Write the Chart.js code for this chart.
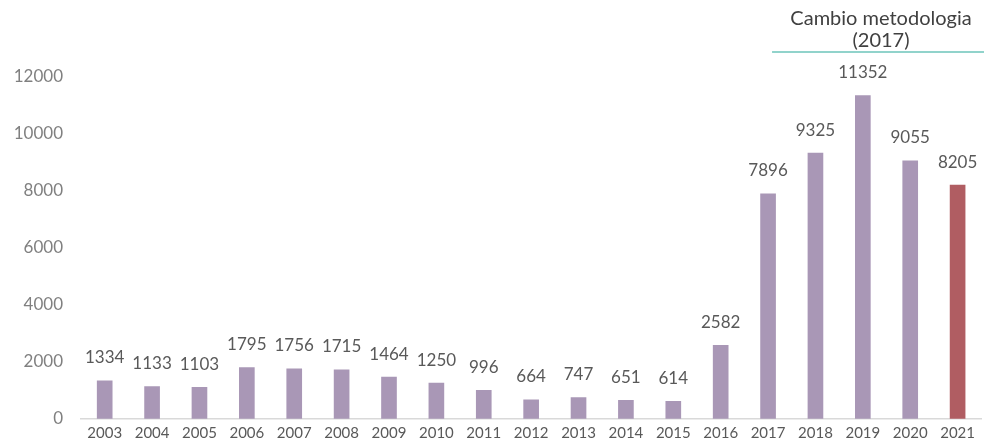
<!DOCTYPE html>
<html>
<head>
<meta charset="utf-8">
<script src="https://cdn.jsdelivr.net/npm/chart.js@4/dist/chart.umd.min.js"></script>
<style>
  html, body { margin: 0; padding: 0; background: #fff; }
  #wrap { width: 984px; height: 447px; position: relative; }
</style>
</head>
<body>
<div id="wrap"><canvas id="myChart"></canvas></div>
<script>
// datos
var years = ["2003", "2004", "2005", "2006", "2007", "2008", "2009", "2010", "2011", "2012",
  "2013", "2014", "2015", "2016", "2017", "2018", "2019", "2020", "2021"];
var values = [1334, 1133, 1103, 1795, 1756, 1715, 1464, 1250, 996, 664,
  747, 651, 614, 2582, 7896, 9325, 11352, 9055, 8205];
var yTicks = [0, 2000, 4000, 6000, 8000, 10000, 12000];
var noteLines = ["Cambio metodologia", "(2017)"];
var noteFrom = "2017";

var barColors = years.map(function (y) {
  return y === "2021" ? "#b05d62" : "#a997b6";
});

// etiquetas de valor y nota
var labelsPlugin = {
  id: "labels",
  afterDatasetsDraw: function (chart) {
    var ctx = chart.ctx;
    var meta = chart.getDatasetMeta(0);
    ctx.save();
    ctx.font = "17px Lato";
    ctx.fillStyle = "#595959";
    ctx.textAlign = "center";
    ctx.textBaseline = "middle";
    meta.data.forEach(function (bar, i) {
      ctx.fillText(values[i], bar.x, bar.y - 23);
    });

    var xs = chart.scales.x;
    var x0 = xs.getPixelForValue(years.indexOf(noteFrom)) + 4;
    var x1 = chart.width;
    ctx.strokeStyle = "#6cc4ba";
    ctx.lineWidth = 1.5;
    ctx.beginPath();
    ctx.moveTo(x0, 52);
    ctx.lineTo(x1, 52);
    ctx.stroke();
    ctx.font = "20px Lato";
    ctx.fillStyle = "#404040";
    ctx.fillText(noteLines[0], 881, 19);
    ctx.fillText(noteLines[1], 881, 41);
    ctx.restore();
  }
};

var ctx = document.getElementById("myChart").getContext("2d");
var chart = new Chart(ctx, {
  type: "bar",
  data: {
    labels: years,
    datasets: [
      {
        data: values,
        backgroundColor: barColors,
        barThickness: 15,
      },
    ],
  },
  options: {
    responsive: true,
    maintainAspectRatio: false,
    animation: false,
    layout: { padding: { top: 77, right: 0, bottom: 0, left: 0 } },
    plugins: { legend: { display: false }, tooltip: { enabled: false } },
    scales: {
      x: {
        grid: { display: false, drawTicks: false },
        border: { color: "#d9d9d9", width: 1.5 },
        ticks: {
          color: "#595959",
          font: { family: "Lato", size: 15, lineHeight: 0.67 },
          padding: 9,
          maxRotation: 0,
          autoSkip: false,
        },
      },
      y: {
        min: 0,
        max: 12000,
        afterBuildTicks: function (axis) {
          axis.ticks = yTicks.map(function (v) { return { value: v }; });
        },
        afterFit: function (axis) { axis.width = 81; },
        grid: { display: false, drawTicks: false },
        border: { display: false },
        ticks: {
          color: "#808080",
          font: { family: "Lato", size: 17 },
          padding: 18,
          callback: function (v) { return String(v); },
        },
      },
    },
  },
  plugins: [labelsPlugin],
});
</script>
</body>
</html>
